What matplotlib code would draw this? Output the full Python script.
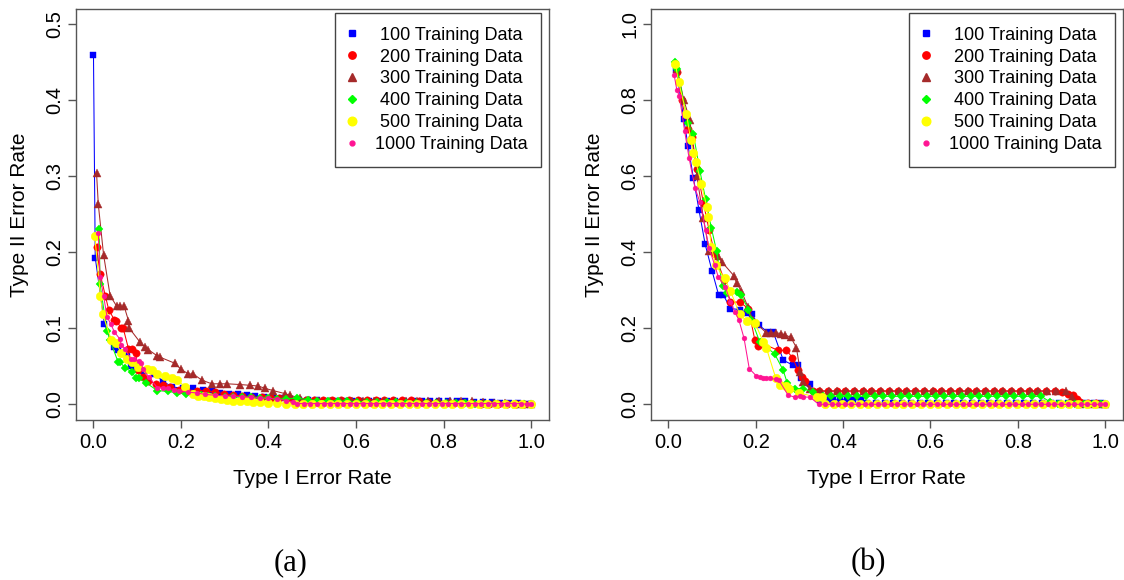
import numpy as np
import matplotlib
matplotlib.use('Agg')
import matplotlib.pyplot as plt
from matplotlib.lines import Line2D
from matplotlib import rcParams

config = {
    "font.family": ['Liberation Sans', 'DejaVu Sans'],
    "font.size": 14.5,
    "axes.edgecolor": '#555555',
    "xtick.color": '#555555',
    "ytick.color": '#555555',
    "xtick.labelcolor": 'black',
    "ytick.labelcolor": 'black',
}
rcParams.update(config)

labels = ['100 Training Data', '200 Training Data', '300 Training Data',
          '400 Training Data', '500 Training Data', '1000 Training Data']
colors = ['#0000FF', '#FF0000', '#A52A2A', '#00FF00', '#FFFF00', '#FF1493']
markers = ['s', 'o', '^', 'D', 'o', 'o']
msizes = [5.0, 5.3, 6.2, 4.2, 6.2, 3.5]

# (a) type I / type II error pairs
a_100 = [[0.000, 0.460], [0.004, 0.193], [0.025, 0.106], [0.046, 0.075], [0.056, 0.071],
         [0.066, 0.068], [0.076, 0.064], [0.085, 0.051], [0.093, 0.049], [0.115, 0.044],
         [0.138, 0.040], [0.160, 0.030], [0.179, 0.023], [0.204, 0.021], [0.228, 0.021],
         [0.250, 0.019], [0.270, 0.017], [0.290, 0.015], [0.310, 0.014], [0.330, 0.013],
         [0.350, 0.012], [0.370, 0.011], [0.390, 0.010], [0.410, 0.009], [0.430, 0.008],
         [0.450, 0.007], [0.470, 0.006], [0.490, 0.006], [0.510, 0.006], [0.530, 0.005],
         [0.550, 0.005], [0.570, 0.005], [0.590, 0.005], [0.610, 0.005], [0.630, 0.005],
         [0.650, 0.005], [0.670, 0.005], [0.690, 0.005], [0.710, 0.005], [0.730, 0.004],
         [0.750, 0.004], [0.770, 0.004], [0.790, 0.004], [0.810, 0.004], [0.830, 0.004],
         [0.850, 0.004], [0.870, 0.003], [0.890, 0.003], [0.910, 0.003], [0.930, 0.002],
         [0.950, 0.002], [0.970, 0.002], [0.990, 0.001], [1.000, 0.000]]
a_200 = [[0.007, 0.207], [0.015, 0.172], [0.027, 0.143], [0.035, 0.124], [0.048, 0.111],
         [0.052, 0.110], [0.064, 0.100], [0.068, 0.100], [0.080, 0.073], [0.089, 0.073],
         [0.097, 0.067], [0.101, 0.045], [0.113, 0.036], [0.125, 0.031], [0.142, 0.027],
         [0.160, 0.025], [0.175, 0.023], [0.195, 0.019], [0.212, 0.019], [0.236, 0.018],
         [0.257, 0.018], [0.278, 0.016], [0.298, 0.014], [0.318, 0.012], [0.340, 0.011],
         [0.360, 0.010], [0.385, 0.009], [0.405, 0.008], [0.425, 0.008], [0.445, 0.007],
         [0.465, 0.006], [0.485, 0.006], [0.505, 0.006], [0.525, 0.006], [0.545, 0.006],
         [0.565, 0.006], [0.585, 0.006], [0.605, 0.006], [0.625, 0.006], [0.645, 0.006],
         [0.665, 0.006], [0.685, 0.006], [0.705, 0.006], [0.725, 0.006], [0.745, 0.004],
         [0.765, 0.003], [0.785, 0.003], [0.805, 0.002], [0.825, 0.002], [0.845, 0.002],
         [0.865, 0.002], [0.885, 0.001], [0.905, 0.001], [0.925, 0.001], [0.945, 0.001],
         [0.965, 0.000], [0.985, 0.000], [1.000, 0.000]]
a_300 = [[0.007, 0.304], [0.011, 0.263], [0.023, 0.197], [0.038, 0.143], [0.053, 0.129],
         [0.061, 0.129], [0.070, 0.129], [0.080, 0.110], [0.082, 0.100], [0.106, 0.082],
         [0.118, 0.075], [0.125, 0.072], [0.145, 0.064], [0.152, 0.062], [0.186, 0.054],
         [0.200, 0.046], [0.217, 0.040], [0.228, 0.040], [0.247, 0.032], [0.270, 0.027],
         [0.289, 0.027], [0.305, 0.027], [0.335, 0.026], [0.358, 0.025], [0.377, 0.024],
         [0.392, 0.021], [0.411, 0.018], [0.438, 0.014], [0.449, 0.012], [0.472, 0.008],
         [0.492, 0.006], [0.515, 0.005], [0.540, 0.005], [0.565, 0.005], [0.590, 0.005],
         [0.615, 0.004], [0.640, 0.004], [0.665, 0.004], [0.690, 0.004], [0.715, 0.004],
         [0.740, 0.004], [0.765, 0.004], [0.790, 0.004], [0.815, 0.004], [0.840, 0.004],
         [0.865, 0.004], [0.890, 0.003], [0.915, 0.002], [0.940, 0.002], [0.965, 0.001],
         [0.985, 0.001], [1.000, 0.000]]
a_400 = [[0.013, 0.230], [0.015, 0.158], [0.031, 0.096], [0.038, 0.084], [0.056, 0.056],
         [0.060, 0.056], [0.072, 0.048], [0.089, 0.042], [0.097, 0.034], [0.105, 0.034],
         [0.121, 0.028], [0.146, 0.018], [0.171, 0.017], [0.190, 0.015], [0.212, 0.014],
         [0.230, 0.013], [0.245, 0.012], [0.262, 0.011], [0.278, 0.011], [0.300, 0.010],
         [0.319, 0.010], [0.340, 0.009], [0.360, 0.009], [0.380, 0.008], [0.400, 0.008],
         [0.420, 0.007], [0.440, 0.007], [0.466, 0.008], [0.490, 0.006], [0.512, 0.005],
         [0.535, 0.005], [0.558, 0.004], [0.580, 0.004], [0.602, 0.003], [0.625, 0.003],
         [0.648, 0.003], [0.670, 0.003], [0.692, 0.003], [0.715, 0.002], [0.738, 0.002],
         [0.760, 0.002], [0.782, 0.002], [0.805, 0.002], [0.828, 0.002], [0.850, 0.002],
         [0.872, 0.001], [0.895, 0.001], [0.918, 0.001], [0.940, 0.001], [0.962, 0.001],
         [0.985, 0.001], [1.000, 0.000]]
a_500 = [[0.003, 0.221], [0.016, 0.142], [0.021, 0.119], [0.041, 0.084], [0.052, 0.080],
         [0.064, 0.067], [0.076, 0.060], [0.089, 0.056], [0.101, 0.049], [0.122, 0.047],
         [0.134, 0.045], [0.146, 0.040], [0.163, 0.037], [0.179, 0.034], [0.191, 0.032],
         [0.210, 0.023], [0.228, 0.013], [0.240, 0.011], [0.253, 0.011], [0.265, 0.009],
         [0.278, 0.008], [0.292, 0.007], [0.305, 0.006], [0.320, 0.005], [0.335, 0.004],
         [0.350, 0.004], [0.365, 0.003], [0.380, 0.003], [0.400, 0.002], [0.420, 0.002],
         [0.440, 0.001], [0.460, 0.001], [0.480, 0.000], [0.500, 0.000], [0.520, 0.000],
         [0.540, 0.000], [0.560, 0.000], [0.580, 0.000], [0.600, 0.000], [0.620, 0.000],
         [0.640, 0.000], [0.660, 0.000], [0.680, 0.000], [0.700, 0.000], [0.720, 0.000],
         [0.740, 0.000], [0.760, 0.000], [0.780, 0.000], [0.800, 0.000], [0.820, 0.000],
         [0.840, 0.000], [0.860, 0.000], [0.880, 0.000], [0.900, 0.000], [0.920, 0.000],
         [0.940, 0.000], [0.960, 0.000], [0.980, 0.000], [1.000, 0.000]]
a_1000 = [[0.011, 0.225], [0.015, 0.168], [0.023, 0.143], [0.031, 0.115], [0.040, 0.105],
          [0.048, 0.095], [0.060, 0.086], [0.064, 0.078], [0.072, 0.073], [0.085, 0.060],
          [0.093, 0.059], [0.105, 0.057], [0.109, 0.054], [0.113, 0.047], [0.126, 0.036],
          [0.146, 0.022], [0.160, 0.021], [0.171, 0.021], [0.185, 0.019], [0.195, 0.018],
          [0.215, 0.016], [0.236, 0.015], [0.255, 0.013], [0.278, 0.012], [0.300, 0.011],
          [0.319, 0.011], [0.340, 0.010], [0.360, 0.009], [0.380, 0.008], [0.400, 0.008],
          [0.420, 0.007], [0.440, 0.005], [0.455, 0.003], [0.466, 0.001], [0.481, 0.001],
          [0.496, 0.001], [0.511, 0.001], [0.526, 0.001], [0.541, 0.001], [0.556, 0.001],
          [0.571, 0.001], [0.586, 0.001], [0.601, 0.001], [0.616, 0.001], [0.631, 0.001],
          [0.646, 0.001], [0.661, 0.001], [0.676, 0.001], [0.691, 0.001], [0.706, 0.001],
          [0.721, 0.001], [0.736, 0.001], [0.751, 0.001], [0.766, 0.001], [0.781, 0.001],
          [0.796, 0.001], [0.811, 0.001], [0.826, 0.001], [0.841, 0.001], [0.856, 0.001],
          [0.871, 0.001], [0.886, 0.001], [0.901, 0.001], [0.916, 0.001], [0.931, 0.001],
          [0.946, 0.001], [0.961, 0.001], [0.976, 0.001], [0.991, 0.000], [1.000, 0.000]]

# (b)
b_100 = [[0.018, 0.880], [0.035, 0.750], [0.045, 0.679], [0.057, 0.596], [0.070, 0.510],
         [0.084, 0.421], [0.100, 0.350], [0.115, 0.287], [0.126, 0.287], [0.142, 0.252],
         [0.164, 0.249], [0.179, 0.241], [0.191, 0.237], [0.207, 0.208], [0.228, 0.190],
         [0.240, 0.190], [0.263, 0.116], [0.285, 0.103], [0.297, 0.103], [0.303, 0.068],
         [0.324, 0.053], [0.347, 0.011], [0.362, 0.012], [0.377, 0.012], [0.392, 0.012],
         [0.408, 0.012], [0.423, 0.012], [0.440, 0.012], [0.455, 0.003], [0.475, 0.003],
         [0.495, 0.003], [0.515, 0.003], [0.535, 0.003], [0.555, 0.003], [0.575, 0.003],
         [0.595, 0.003], [0.615, 0.003], [0.635, 0.003], [0.655, 0.003], [0.675, 0.003],
         [0.695, 0.003], [0.715, 0.003], [0.735, 0.003], [0.755, 0.003], [0.775, 0.003],
         [0.795, 0.003], [0.815, 0.003], [0.835, 0.003], [0.855, 0.003], [0.875, 0.003],
         [0.895, 0.003], [0.915, 0.003], [0.935, 0.003], [0.955, 0.003], [0.975, 0.003],
         [0.990, 0.003], [1.000, 0.000]]
b_200 = [[0.020, 0.875], [0.030, 0.800], [0.045, 0.725], [0.054, 0.704], [0.065, 0.620],
         [0.080, 0.530], [0.093, 0.458], [0.106, 0.396], [0.128, 0.326], [0.142, 0.269],
         [0.163, 0.269], [0.183, 0.252], [0.198, 0.168], [0.205, 0.153], [0.215, 0.160],
         [0.251, 0.142], [0.270, 0.142], [0.284, 0.123], [0.297, 0.089], [0.305, 0.072],
         [0.312, 0.061], [0.331, 0.035], [0.345, 0.035], [0.365, 0.035], [0.385, 0.035],
         [0.405, 0.035], [0.425, 0.035], [0.445, 0.035], [0.465, 0.035], [0.485, 0.035],
         [0.505, 0.035], [0.525, 0.035], [0.545, 0.035], [0.565, 0.035], [0.585, 0.035],
         [0.605, 0.035], [0.625, 0.035], [0.645, 0.035], [0.665, 0.035], [0.685, 0.035],
         [0.705, 0.035], [0.725, 0.035], [0.745, 0.035], [0.765, 0.035], [0.785, 0.035],
         [0.805, 0.035], [0.825, 0.035], [0.845, 0.035], [0.865, 0.035], [0.885, 0.035],
         [0.902, 0.032], [0.915, 0.028], [0.927, 0.024], [0.935, 0.015], [0.943, 0.006],
         [0.960, 0.003], [0.980, 0.003], [1.000, 0.000]]
b_300 = [[0.020, 0.883], [0.035, 0.800], [0.049, 0.749], [0.053, 0.704], [0.065, 0.600],
         [0.080, 0.490], [0.093, 0.404], [0.114, 0.389], [0.122, 0.375], [0.150, 0.338],
         [0.156, 0.319], [0.167, 0.298], [0.182, 0.256], [0.194, 0.221], [0.224, 0.188],
         [0.235, 0.188], [0.247, 0.188], [0.258, 0.186], [0.266, 0.182], [0.280, 0.177],
         [0.293, 0.149], [0.302, 0.085], [0.308, 0.059], [0.324, 0.041], [0.347, 0.035],
         [0.367, 0.035], [0.387, 0.035], [0.407, 0.035], [0.427, 0.035], [0.447, 0.035],
         [0.467, 0.035], [0.487, 0.035], [0.507, 0.035], [0.527, 0.035], [0.547, 0.035],
         [0.567, 0.035], [0.587, 0.035], [0.607, 0.035], [0.627, 0.035], [0.647, 0.035],
         [0.667, 0.035], [0.687, 0.035], [0.707, 0.035], [0.727, 0.035], [0.747, 0.035],
         [0.767, 0.035], [0.787, 0.035], [0.807, 0.035], [0.827, 0.035], [0.847, 0.035],
         [0.867, 0.035], [0.887, 0.035], [0.910, 0.035], [0.925, 0.020], [0.943, 0.002],
         [0.965, 0.002], [0.985, 0.002], [1.000, 0.000]]
b_400 = [[0.015, 0.901], [0.020, 0.881], [0.045, 0.739], [0.057, 0.711], [0.072, 0.614],
         [0.085, 0.540], [0.098, 0.465], [0.110, 0.404], [0.124, 0.311], [0.133, 0.293],
         [0.156, 0.296], [0.167, 0.287], [0.183, 0.249], [0.190, 0.223], [0.209, 0.164],
         [0.243, 0.133], [0.263, 0.089], [0.272, 0.056], [0.289, 0.041], [0.308, 0.041],
         [0.331, 0.032], [0.354, 0.021], [0.372, 0.021], [0.392, 0.021], [0.412, 0.021],
         [0.432, 0.021], [0.452, 0.021], [0.472, 0.021], [0.492, 0.021], [0.512, 0.021],
         [0.532, 0.021], [0.552, 0.021], [0.572, 0.021], [0.592, 0.021], [0.612, 0.021],
         [0.632, 0.021], [0.652, 0.021], [0.672, 0.021], [0.692, 0.021], [0.712, 0.021],
         [0.732, 0.021], [0.752, 0.021], [0.772, 0.021], [0.792, 0.021], [0.812, 0.021],
         [0.832, 0.021], [0.854, 0.021], [0.874, 0.006], [0.892, 0.002], [0.912, 0.002],
         [0.932, 0.002], [0.952, 0.002], [0.972, 0.002], [0.990, 0.002], [1.000, 0.000]]
b_500 = [[0.016, 0.896], [0.023, 0.848], [0.041, 0.765], [0.051, 0.695], [0.057, 0.660],
         [0.063, 0.638], [0.075, 0.580], [0.088, 0.519], [0.091, 0.493], [0.098, 0.414],
         [0.108, 0.366], [0.129, 0.331], [0.142, 0.298], [0.163, 0.237], [0.179, 0.219],
         [0.198, 0.215], [0.217, 0.164], [0.224, 0.149], [0.246, 0.068], [0.255, 0.050],
         [0.270, 0.048], [0.276, 0.041], [0.300, 0.030], [0.341, 0.018], [0.351, 0.018],
         [0.358, 0.002], [0.378, 0.000], [0.398, 0.000], [0.418, 0.000], [0.438, 0.000],
         [0.458, 0.000], [0.478, 0.000], [0.498, 0.000], [0.518, 0.000], [0.538, 0.000],
         [0.558, 0.000], [0.578, 0.000], [0.598, 0.000], [0.618, 0.000], [0.638, 0.000],
         [0.658, 0.000], [0.678, 0.000], [0.698, 0.000], [0.718, 0.000], [0.738, 0.000],
         [0.758, 0.000], [0.778, 0.000], [0.798, 0.000], [0.818, 0.000], [0.838, 0.000],
         [0.858, 0.000], [0.878, 0.000], [0.898, 0.000], [0.918, 0.000], [0.938, 0.000],
         [0.958, 0.000], [0.978, 0.000], [1.000, 0.000]]
b_1000 = [[0.013, 0.866], [0.019, 0.828], [0.025, 0.811], [0.037, 0.719], [0.047, 0.649],
          [0.061, 0.568], [0.072, 0.532], [0.085, 0.458], [0.093, 0.410], [0.106, 0.366],
          [0.114, 0.335], [0.130, 0.309], [0.142, 0.269], [0.152, 0.243], [0.161, 0.223],
          [0.173, 0.174], [0.185, 0.094], [0.201, 0.075], [0.210, 0.072], [0.217, 0.070],
          [0.224, 0.068], [0.232, 0.068], [0.246, 0.066], [0.252, 0.065], [0.274, 0.024],
          [0.289, 0.019], [0.301, 0.021], [0.308, 0.019], [0.324, 0.019], [0.344, 0.000],
          [0.359, 0.000], [0.374, 0.000], [0.389, 0.000], [0.404, 0.000], [0.419, 0.000],
          [0.434, 0.000], [0.449, 0.000], [0.464, 0.000], [0.479, 0.000], [0.494, 0.000],
          [0.509, 0.000], [0.524, 0.000], [0.539, 0.000], [0.554, 0.000], [0.569, 0.000],
          [0.584, 0.000], [0.599, 0.000], [0.614, 0.000], [0.629, 0.000], [0.644, 0.000],
          [0.659, 0.000], [0.674, 0.000], [0.689, 0.000], [0.704, 0.000], [0.719, 0.000],
          [0.734, 0.000], [0.749, 0.000], [0.764, 0.000], [0.779, 0.000], [0.794, 0.000],
          [0.809, 0.000], [0.824, 0.000], [0.839, 0.000], [0.854, 0.000], [0.869, 0.000],
          [0.884, 0.000], [0.899, 0.000], [0.914, 0.000], [0.929, 0.000], [0.944, 0.000],
          [0.959, 0.000], [0.974, 0.000], [0.989, 0.000], [1.000, 0.000]]

panel_a = [a_100, a_200, a_300, a_400, a_500, a_1000]
panel_b = [b_100, b_200, b_300, b_400, b_500, b_1000]


def draw_panel(ax, series, ymax, ytick_step):
    for pts, c, m, ms in zip(series, colors, markers, msizes):
        pts = np.array(pts)
        ax.plot(pts[:, 0], pts[:, 1], color=c, lw=0.75, marker=m, ms=ms,
                mec=c, mfc=c, mew=0.3)
    ax.set_xlim(-0.04, 1.04)
    ax.set_ylim(-0.04 * ymax, 1.04 * ymax)
    ax.set_xticks(np.arange(0, 1.01, 0.2))
    ax.set_yticks(np.arange(0, ymax + 1e-9, ytick_step))
    ax.xaxis.set_major_formatter('{x:.1f}')
    ax.yaxis.set_major_formatter('{x:.1f}')
    ax.tick_params(axis='both', length=6, width=1.0)
    ax.tick_params(axis='x', pad=4)
    ax.tick_params(axis='y', pad=2.5, labelrotation=90)
    for lab in ax.get_yticklabels():
        lab.set_va('center')
    for sp in ax.spines.values():
        sp.set_linewidth(1.0)
    ax.set_xlabel('Type I Error Rate', fontsize=15, va='center')
    ax.set_ylabel('Type II Error Rate', fontsize=15, va='center')
    ax.xaxis.set_label_coords(0.5, -0.1425)
    ax.yaxis.set_label_coords(-0.119, 0.5)

    handles = [Line2D([], [], ls='none', marker=m, color=c, mec=c, ms=ms)
               for c, m, ms in zip(colors, markers, msizes)]
    leg = ax.legend(handles, labels, loc='upper right', bbox_to_anchor=(0.985, 0.99),
                    borderaxespad=0, fontsize=13, frameon=True, fancybox=False,
                    framealpha=1, edgecolor='#444444', borderpad=0.75,
                    labelspacing=0.27, handlelength=0.4, handletextpad=1.1)
    leg.get_frame().set_linewidth(1.0)
    return leg


def center_legend_text(fig, leg):
    # center each label inside the legend column
    r = fig.canvas.get_renderer()
    texts = leg.get_texts()
    widths = [t.get_window_extent(r).width for t in texts]
    for t, w in zip(texts, widths):
        t.set_x((max(widths) - w) / 2)


def main():
    fig = plt.figure(figsize=(11.24, 5.8), dpi=100)
    ax1 = fig.add_axes([0.0676, 0.2767, 0.4204, 0.7078])
    ax2 = fig.add_axes([0.5792, 0.2767, 0.4195, 0.7078])

    leg1 = draw_panel(ax1, panel_a, 0.5, 0.1)
    leg2 = draw_panel(ax2, panel_b, 1.0, 0.2)

    fig.text(291 / 1124, 1 - 563 / 580, '(a)', family=['Liberation Serif', 'DejaVu Serif'],
             fontsize=22, ha='center', va='center')
    fig.text(868 / 1124, 1 - 563 / 580, '(b)', family=['Liberation Serif', 'DejaVu Serif'],
             fontsize=22, ha='center', va='center')

    fig.canvas.draw()
    center_legend_text(fig, leg1)
    center_legend_text(fig, leg2)

    fig.savefig('out.png', dpi=100)


if __name__ == '__main__':
    main()
